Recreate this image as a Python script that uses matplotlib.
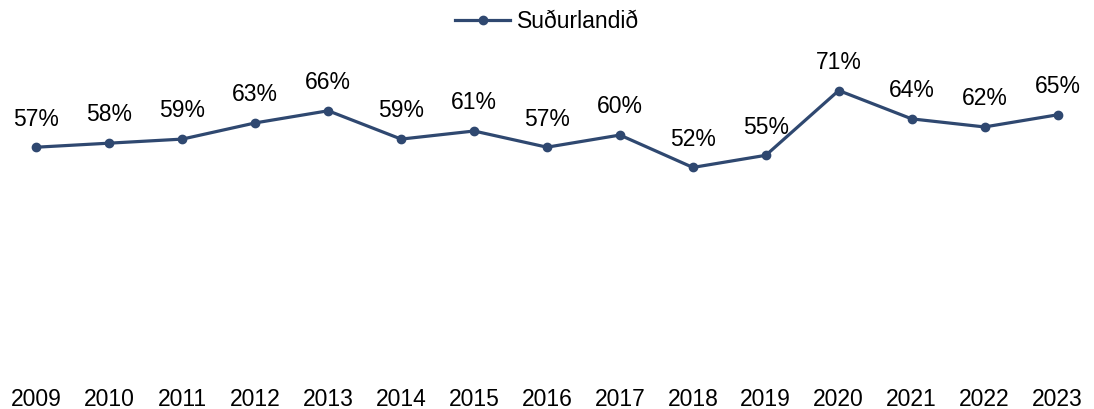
import matplotlib.pyplot as plt
import numpy as np

plt.rcParams['font.family'] = ['Liberation Sans', 'DejaVu Sans']

years = ['2009', '2010', '2011', '2012', '2013', '2014', '2015', '2016',
         '2017', '2018', '2019', '2020', '2021', '2022', '2023']
share = [57, 58, 59, 63, 66, 59, 61, 57, 60, 52, 55, 71, 64, 62, 65]
series_name = 'Suðurlandið'

color = '#2F4870'
fs = 16.5

fig = plt.figure(figsize=(10.94, 4.09), dpi=100)
ax = fig.add_axes([0, 0.0758, 1, 0.792])

x = np.arange(len(years))
vals = np.array(share) / 100
ax.plot(x, vals, color=color, lw=2.3, marker='o', ms=6, label=series_name)

for xi, v, s in zip(x, vals, share):
    ax.annotate(f'{s}%', (xi, v), xytext=(0, 12), textcoords='offset points',
                ha='center', va='bottom', fontsize=fs, color='black')

ax.set_xlim(-0.5, len(years) - 0.5)
ax.set_ylim(0, 0.8)
ax.set_xticks(x)
ax.set_xticklabels(years, fontsize=fs)
ax.tick_params(axis='x', length=0, pad=7)
ax.set_yticks([])
for sp in ax.spines.values():
    sp.set_visible(False)

fig.legend(loc='upper center', bbox_to_anchor=(0.5, 1.025), frameon=False,
           fontsize=fs, handlelength=2.4, handletextpad=0.3)

fig.savefig('out.png', dpi=100)
